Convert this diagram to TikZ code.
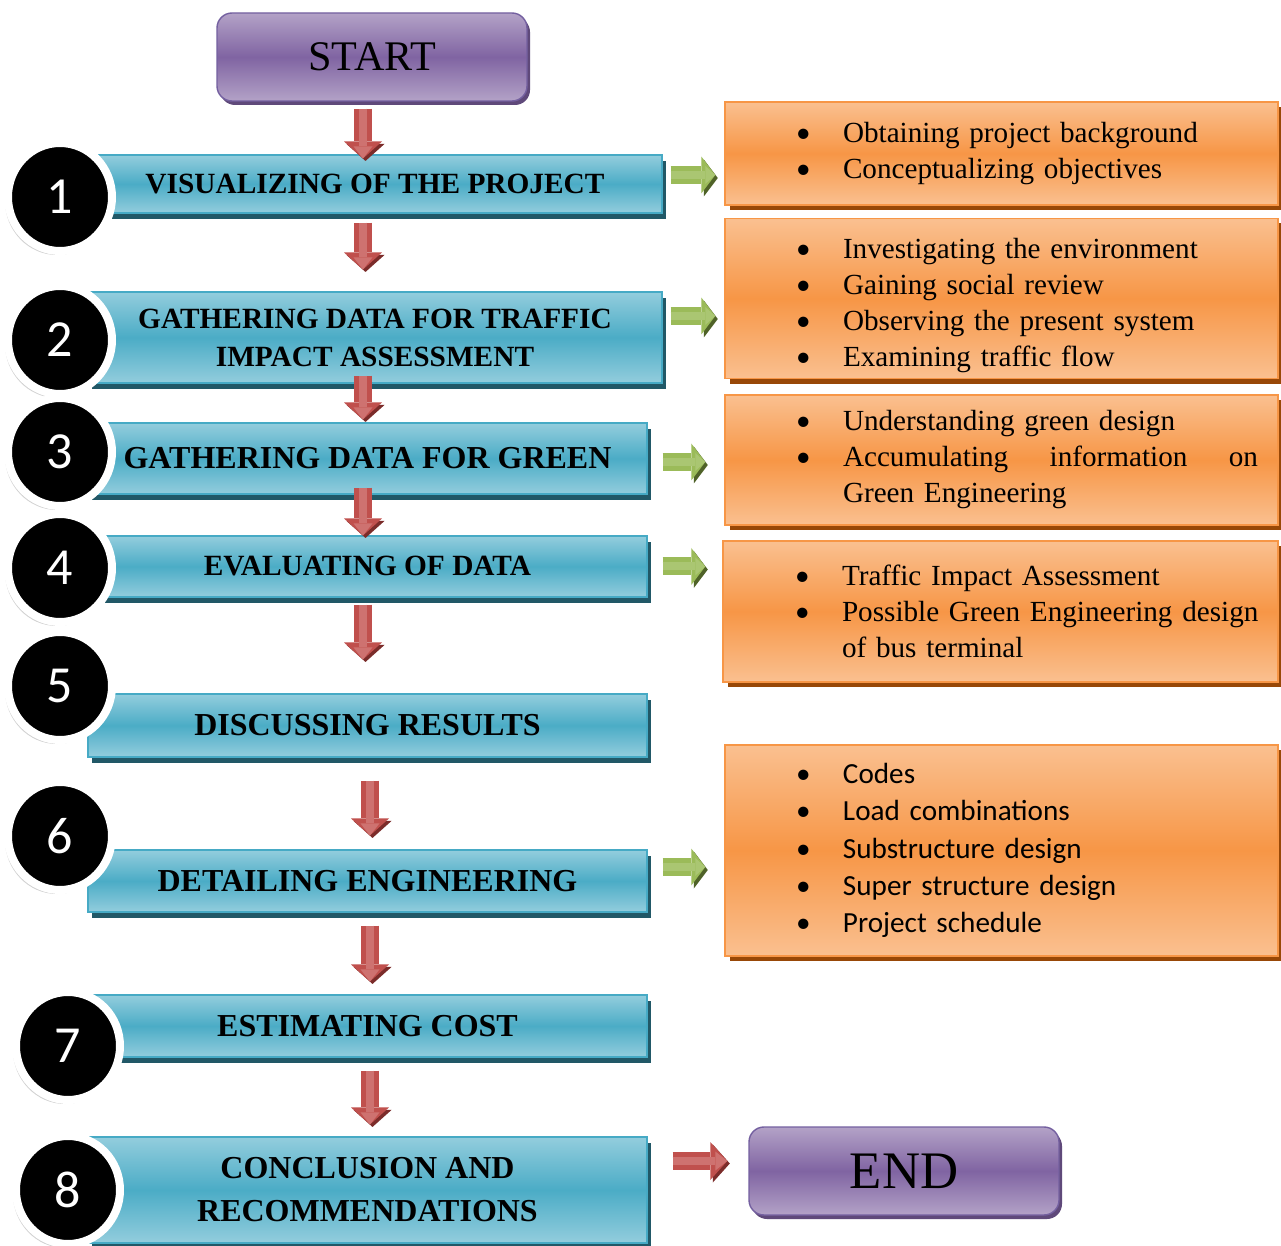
\documentclass[tikz,border=0pt]{standalone}
\usepackage{fontspec}
\setmainfont{Liberation Serif}
\newfontfamily\calibri{Carlito}
\usetikzlibrary{shapes.geometric,shadows,arrows.meta,calc}

\definecolor{purplelight}{HTML}{B3A2C7}
\definecolor{purplemid}{HTML}{8064A2}
\definecolor{purpleline}{HTML}{7460A0}
\definecolor{purpleshadow}{HTML}{5F497A}
\definecolor{barlight}{HTML}{93CDDD}
\definecolor{barmid}{HTML}{4BACC6}
\definecolor{barline}{HTML}{46AAC5}
\definecolor{barshadow}{HTML}{215867}
\definecolor{infolight}{HTML}{FAC090}
\definecolor{infomid}{HTML}{F79646}
\definecolor{infoshadow}{HTML}{984807}
\definecolor{flowred}{HTML}{C0504D}
\definecolor{flowredlight}{HTML}{CE7270}
\definecolor{flowredshadow}{HTML}{7B2C2A}
\definecolor{sidegreen}{HTML}{9BBB59}
\definecolor{sidegreenlight}{HTML}{AAC672}
\definecolor{sidegreenshadow}{HTML}{4F6228}

% bulleted lines, and a line that carries on under the text column
\newcommand{\pointline}[1]{\makebox[0.94cm][l]{{\calibri\textbullet}}\mbox{#1}}
\newcommand{\moreline}[1]{\hspace*{0.94cm}\mbox{#1}}

\begin{document}
\begin{tikzpicture}[
    terminal/.style={rectangle, rounded corners=0.3cm, draw=purpleline, line width=0.8pt,
      top color=purplelight, bottom color=purplelight, middle color=purplemid,
      minimum width=6.2cm, minimum height=1.76cm,
      drop shadow={shadow xshift=0.06cm, shadow yshift=-0.08cm, fill=purpleshadow, opacity=1}},
    stepbar/.style={rectangle, draw=barline, line width=0.6pt,
      top color=barlight, bottom color=barlight, middle color=barmid,
      minimum width=11.18cm, align=center, font=\bfseries\fontsize{18.2}{24.5}\selectfont,
      drop shadow={shadow xshift=0.08cm, shadow yshift=-0.12cm, fill=barshadow, opacity=1}},
    narrowtitle/.style={font=\bfseries\fontsize{16.7}{21.6}\selectfont},
    stepno/.style={ellipse, fill=black, draw=white, line width=0.16cm,
      minimum width=2.08cm, minimum height=2.16cm, inner sep=0pt,
      text=white, font=\calibri\fontsize{29.6}{30}\selectfont,
      drop shadow={shadow xshift=-0.06cm, shadow yshift=-0.08cm, fill=black!18, opacity=1}},
    infobox/.style={rectangle, draw=infomid, line width=0.8pt,
      top color=infolight, bottom color=infolight, middle color=infomid,
      minimum width=11.06cm, text width=8.22cm, inner xsep=1.42cm, align=left,
      font=\fontsize{16.6}{20.5}\selectfont,
      drop shadow={shadow xshift=0.1cm, shadow yshift=-0.1cm, fill=infoshadow, opacity=1}},
    flowarrow/.style={draw=flowred, line width=0.36cm,
      -{Triangle[length=0.34cm, width=0.76cm, line width=0pt]},
      preaction={draw=flowredshadow, transform canvas={shift={(0.05,-0.05)}}},
      postaction={draw=flowredlight, line width=0.16cm,
        -{Triangle[length=0.24cm, width=0.38cm, line width=0pt]}}},
    sidearrow/.style={draw=sidegreen, line width=0.36cm,
      -{Triangle[length=0.28cm, width=0.74cm, line width=0pt]},
      preaction={draw=sidegreenshadow, transform canvas={shift={(0.05,-0.06)}}},
      postaction={draw=sidegreenlight, line width=0.16cm,
        -{Triangle[length=0.2cm, width=0.36cm, line width=0pt]}}}
  ]
    \path[use as bounding box, fill=white] (0,0) rectangle (25.62,-24.92);

    % main column
    \node[terminal, font=\fontsize{24}{28}\selectfont] (start) at (7.44,-1.14) {START};
    \node[stepbar, narrowtitle, minimum width=11.48cm, minimum height=1.16cm] (s1) at (7.50,-3.68) {VISUALIZING OF THE PROJECT};
    \node[stepbar, narrowtitle, minimum width=11.48cm, minimum height=1.82cm] (s2) at (7.50,-6.75) {GATHERING DATA FOR TRAFFIC\\IMPACT ASSESSMENT};
    \node[stepbar, minimum height=1.42cm] (s3) at (7.35,-9.17) {GATHERING DATA FOR GREEN};
    \node[stepbar, narrowtitle, minimum height=1.22cm] (s4) at (7.35,-11.33) {EVALUATING OF DATA};
    \node[stepbar, minimum height=1.26cm] (s5) at (7.35,-14.51) {DISCUSSING RESULTS};
    \node[stepbar, minimum height=1.24cm] (s6) at (7.35,-17.62) {DETAILING ENGINEERING};
    \node[stepbar, minimum height=1.24cm] (s7) at (7.35,-20.52) {ESTIMATING COST};
    \node[stepbar, minimum height=2.12cm] (s8) at (7.35,-23.80) {CONCLUSION AND\\RECOMMENDATIONS};
    \node[terminal, font=\fontsize{30}{34}\selectfont] (finish) at (18.08,-23.42) {END};

    % step numbers
    \node[stepno] (c1) at (1.20,-3.94) {1};
    \node[stepno] (c2) at (1.20,-6.80) {2};
    \node[stepno] (c3) at (1.20,-9.04) {3};
    \node[stepno] (c4) at (1.20,-11.36) {4};
    \node[stepno] (c5) at (1.20,-13.72) {5};
    \node[stepno] (c6) at (1.20,-16.72) {6};
    \node[stepno] (c7) at (1.36,-20.92) {7};
    \node[stepno] (c8) at (1.36,-23.80) {8};

    % details on the right
    \node[infobox, minimum height=2.06cm] (infoA) at (20.03,-3.07)
      {\pointline{Obtaining project background}\\
       \pointline{Conceptualizing objectives}};
    \node[infobox, minimum height=3.18cm] (infoB) at (20.03,-5.97)
      {\rule{0pt}{0.68cm}\pointline{Investigating the environment}\\
       \pointline{Gaining social review}\\
       \pointline{Observing the present system}\\
       \pointline{Examining traffic flow}};
    \node[infobox, minimum height=2.60cm] (infoC) at (20.03,-9.20)
      {\pointline{Understanding green design}\\
       \pointline{\makebox[8.3cm][l]{Accumulating\hfill information\hfill on}}\\
       \moreline{Green Engineering}};
    \node[infobox, minimum width=11.10cm, minimum height=2.82cm] (infoD) at (20.01,-12.23)
      {\pointline{Traffic Impact Assessment}\\
       \pointline{Possible Green Engineering design}\\
       \moreline{of bus terminal}};
    \node[infobox, minimum height=4.22cm, font=\calibri\fontsize{16.6}{21.3}\selectfont] (infoE) at (20.03,-17.01)
      {\pointline{Codes}\\
       \pointline{Load combinations}\\
       \pointline{Substructure design}\\
       \pointline{Super structure design}\\
       \pointline{Project schedule}};

    % red flow arrows
    \coordinate (upper) at (7.26,0);
    \coordinate (lower) at (7.40,0);
    \draw[flowarrow, shorten <=0.14cm, shorten >=-0.08cm] (start.south -| upper) -- (s1.north -| upper);
    \draw[flowarrow, shorten <=0.18cm, shorten >=0.44cm] (s1.south -| upper) -- (s2.north -| upper);
    \draw[flowarrow, shorten <=-0.16cm, shorten >=0.06cm] (s2.south -| upper) -- (s3.north -| upper);
    \draw[flowarrow, shorten <=-0.14cm] (s3.south -| upper) -- (s4.north -| upper);
    \draw[flowarrow, shorten <=0.14cm, shorten >=0.68cm] (s4.south -| upper) -- (s5.north -| upper);
    \draw[flowarrow, shorten <=0.46cm, shorten >=0.28cm] (s5.south -| lower) -- (s6.north -| lower);
    \draw[flowarrow, shorten <=0.26cm, shorten >=0.26cm] (s6.south -| lower) -- (s7.north -| lower);
    \draw[flowarrow, shorten <=0.26cm, shorten >=0.24cm] (s7.south -| lower) -- (s8.north -| lower);
    \draw[flowarrow, shorten <=0.5cm, shorten >=0.42cm] ($(s8.east)+(0,0.58)$) -- ($(s8.east -| finish.west)+(0,0.58)$);

    % green side arrows
    \draw[sidearrow, shorten <=0.16cm, shorten >=0.18cm] ($(s1.east)+(0,0.18)$) -- ($(s1.east -| infoA.west)+(0,0.18)$);
    \draw[sidearrow, shorten <=0.16cm, shorten >=0.18cm] ($(s2.east)+(0,0.43)$) -- ($(s2.east -| infoB.west)+(0,0.43)$);
    \draw[sidearrow, shorten <=0.30cm, shorten >=0.38cm] ($(s3.east)+(0,-0.07)$) -- ($(s3.east -| infoC.west)+(0,-0.07)$);
    \draw[sidearrow, shorten <=0.30cm, shorten >=0.34cm] (s4.east) -- (s4.east -| infoD.west);
    \draw[sidearrow, shorten <=0.30cm, shorten >=0.38cm] ($(s6.east)+(0,0.28)$) -- ($(s6.east -| infoE.west)+(0,0.28)$);
  \end{tikzpicture}
\end{document}
